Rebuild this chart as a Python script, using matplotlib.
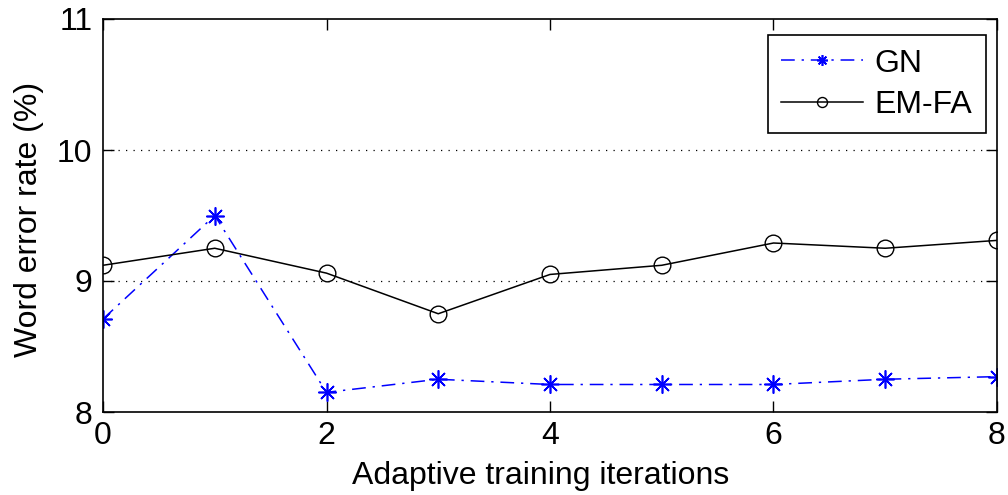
import matplotlib
matplotlib.use("Agg")
import matplotlib.pyplot as plt

iterations = [0, 1, 2, 3, 4, 5, 6, 7, 8]
gn_wer = [8.71, 9.50, 8.15, 8.25, 8.21, 8.21, 8.21, 8.25, 8.27]
emfa_wer = [9.12, 9.25, 9.06, 8.75, 9.05, 9.12, 9.29, 9.25, 9.31]
x_ticks = [0, 2, 4, 6, 8]
y_ticks = [8, 9, 10, 11]

plt.rcParams['font.family'] = ['Liberation Sans', 'DejaVu Sans']
FS = 23

fig = plt.figure(figsize=(10.08, 4.95), dpi=100)
ax = fig.add_axes([103/1008, 1 - 412/495, (997-103)/1008, (412-19)/495])

ax.plot(iterations, gn_wer, color='#0000ff', linestyle=(0, (9, 4.5, 1.5, 4.5)),
        linewidth=1.1, marker=(8, 2, 0), markersize=13, markeredgewidth=1.2,
        label='GN')
ax.plot(iterations, emfa_wer, color='black', linestyle='-', linewidth=1.1,
        marker='o', markersize=12, markerfacecolor='none', markeredgewidth=1.0,
        label='EM-FA')

ax.set_xlim(0, 8)
ax.set_ylim(8, 11)
ax.set_xticks(x_ticks)
ax.set_yticks(y_ticks)
for yv in [9, 10]:
    ax.axhline(yv, color='black', linestyle=(0, (1, 5)), linewidth=0.9, zorder=0)

ax.tick_params(direction='in', length=8, width=1, top=True, right=True,
               labelsize=FS)
ax.tick_params(axis='x', pad=6.5)
ax.tick_params(axis='y', pad=7.5)
for s in ax.spines.values():
    s.set_linewidth(1.2)

ax.set_xlabel('Adaptive training iterations', fontsize=FS)
ax.set_ylabel('Word error rate (%)', fontsize=FS)
ax.xaxis.set_label_coords(0.49, -0.1247)
ax.yaxis.set_label_coords(-0.066, 0.49)

leg = ax.legend(loc='upper right', fontsize=FS, frameon=True, fancybox=False,
                edgecolor='black', framealpha=1, borderpad=0.42,
                labelspacing=0.36, handlelength=2.56, handletextpad=0.37,
                markerscale=0.6, borderaxespad=0,
                bbox_to_anchor=(0.9877, 0.959))
leg.get_frame().set_linewidth(1.2)

fig.savefig('out.png', dpi=100)
